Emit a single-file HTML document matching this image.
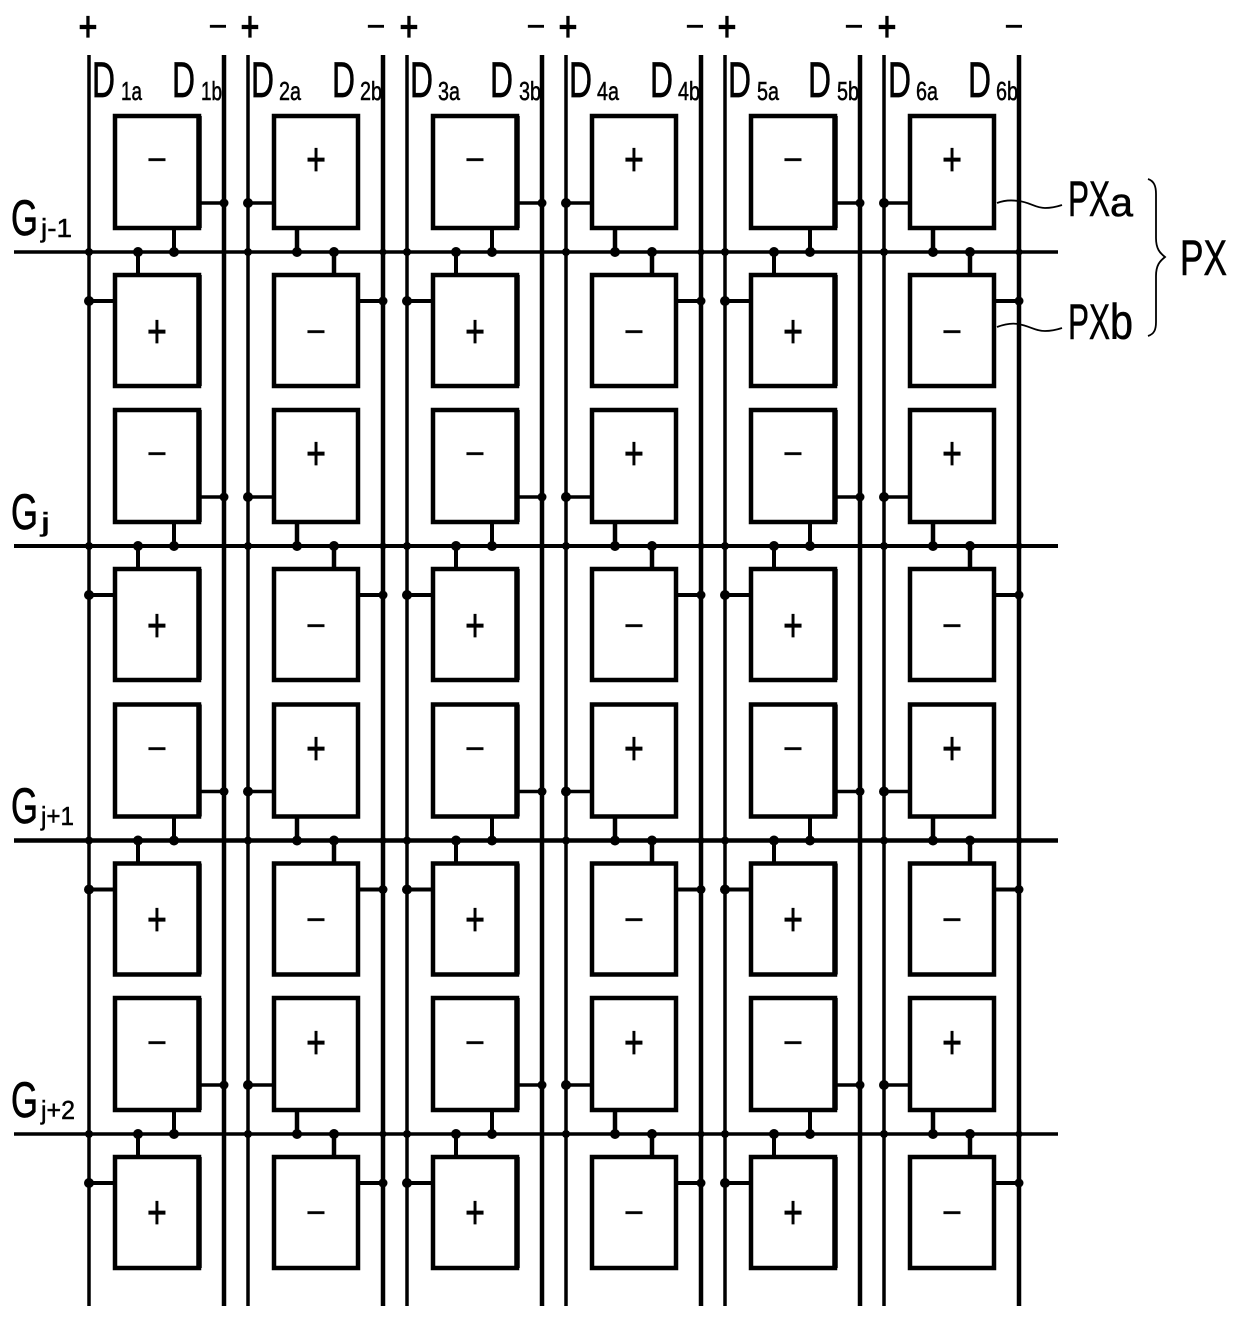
<!DOCTYPE html>
<html><head><meta charset="utf-8">
<style>
html,body{margin:0;padding:0;background:#fff;width:1240px;height:1325px;overflow:hidden}
svg{display:block}
text{font-family:"Liberation Sans",sans-serif;fill:#000}
.s{font-size:34px;text-anchor:middle;stroke:#000;stroke-width:.5px}
.p{transform-box:fill-box;transform-origin:center;transform:scaleY(1.35)}
.t{font-size:32px;text-anchor:middle;stroke:#000;stroke-width:.6px}
.tp{font-size:32px;text-anchor:middle;stroke:#000;stroke-width:1px;transform-box:fill-box;transform-origin:center;transform:scaleY(1.3)}
.d{font-size:50px;stroke:#000;stroke-width:.7px}
.b{font-size:26px;stroke:#000;stroke-width:.5px}
.l{stroke:#000;stroke-width:.6px}
</style></head><body>
<svg width="1240" height="1325" viewBox="0 0 1240 1325" xmlns="http://www.w3.org/2000/svg">
<defs>
<g id="odd" fill="none" stroke="#000" stroke-width="4">
<rect x="115" y="116" width="84" height="112" stroke-width="4.5"/>
<path d="M199 116V228" stroke-width="5.5"/>
<path d="M199 203H224" stroke-width="3.5"/>
<path d="M174 230V252" stroke-width="4"/>
<rect x="115" y="275" width="84" height="111" stroke-width="4.5"/>
<path d="M199 275V386" stroke-width="5.5"/>
<path d="M89 301H113" stroke-width="4"/>
<path d="M138 252V273" stroke-width="4"/>
<g fill="#000" stroke="none">
<circle cx="224" cy="203" r="4.5"/><circle cx="174" cy="252" r="5"/>
<circle cx="138" cy="252" r="5"/><circle cx="89" cy="301" r="5"/>
<circle cx="89" cy="252" r="4"/>
</g></g>
<g id="even" fill="none" stroke="#000" stroke-width="4">
<rect x="274" y="116" width="84" height="112" stroke-width="4.5"/>
<path d="M248 203H272" stroke-width="3.5"/>
<path d="M297 230V252" stroke-width="4.5"/>
<rect x="274" y="275" width="84" height="111" stroke-width="4.5"/>
<path d="M360 301H383" stroke-width="4"/>
<path d="M334 252V273" stroke-width="4.5"/>
<g fill="#000" stroke="none">
<circle cx="248" cy="203" r="5"/><circle cx="297" cy="252" r="5"/>
<circle cx="334" cy="252" r="5"/><circle cx="383" cy="301" r="4.5"/>
<circle cx="248" cy="252" r="4"/><circle cx="383" cy="252" r="3.5"/>
</g></g>
<g id="pair"><use href="#odd"/><use href="#even"/></g>
<g id="row"><use href="#pair"/><use href="#pair" x="318"/><use href="#pair" x="636"/></g>
</defs>

<!-- gate lines -->
<g stroke="#000" fill="none">
<path d="M14 252H1058" stroke-width="3.5"/>
<path d="M14 546H1058" stroke-width="4"/>
<path d="M14 840.5H1058" stroke-width="4.5"/>
<path d="M14 1134H1058" stroke-width="3.5"/>
<!-- data lines -->
<g stroke-width="3.5">
<path d="M89 55V1306"/><path d="M248 55V1306"/><path d="M407 55V1306"/><path d="M566 55V1306"/><path d="M725 55V1306"/><path d="M884 55V1306"/>
</g>
<g stroke-width="4.5">
<path d="M224 55V1306"/><path d="M383 55V1306"/><path d="M542 55V1306"/><path d="M701 55V1306"/><path d="M860 55V1306"/><path d="M1019 55V1306"/>
</g>
</g>

<use href="#row"/>
<use href="#row" y="294"/>
<use href="#row" y="588.5"/>
<use href="#row" y="882"/>

<!-- top polarity -->
<text class="tp" x="88" y="37">+</text><text class="t" x="218" y="37">−</text>
<text class="tp" x="250" y="37">+</text><text class="t" x="376" y="37">−</text>
<text class="tp" x="409" y="37">+</text><text class="t" x="536" y="37">−</text>
<text class="tp" x="568" y="37">+</text><text class="t" x="695" y="37">−</text>
<text class="tp" x="727" y="37">+</text><text class="t" x="854" y="37">−</text>
<text class="tp" x="887" y="37">+</text><text class="t" x="1014" y="37">−</text>

<!-- data labels -->
<text class="d" x="92" y="97" textLength="23" lengthAdjust="spacingAndGlyphs">D</text><text class="b" x="121" y="100" textLength="21" lengthAdjust="spacingAndGlyphs">1a</text>
<text class="d" x="172" y="97" textLength="23" lengthAdjust="spacingAndGlyphs">D</text><text class="b" x="201" y="100" textLength="21" lengthAdjust="spacingAndGlyphs">1b</text>
<text class="d" x="251" y="97" textLength="23" lengthAdjust="spacingAndGlyphs">D</text><text class="b" x="279" y="100" textLength="22" lengthAdjust="spacingAndGlyphs">2a</text>
<text class="d" x="332" y="97" textLength="23" lengthAdjust="spacingAndGlyphs">D</text><text class="b" x="360" y="100" textLength="22" lengthAdjust="spacingAndGlyphs">2b</text>
<text class="d" x="410" y="97" textLength="23" lengthAdjust="spacingAndGlyphs">D</text><text class="b" x="438" y="100" textLength="22" lengthAdjust="spacingAndGlyphs">3a</text>
<text class="d" x="490" y="97" textLength="23" lengthAdjust="spacingAndGlyphs">D</text><text class="b" x="519" y="100" textLength="22" lengthAdjust="spacingAndGlyphs">3b</text>
<text class="d" x="569" y="97" textLength="23" lengthAdjust="spacingAndGlyphs">D</text><text class="b" x="597" y="100" textLength="22" lengthAdjust="spacingAndGlyphs">4a</text>
<text class="d" x="650" y="97" textLength="23" lengthAdjust="spacingAndGlyphs">D</text><text class="b" x="678" y="100" textLength="22" lengthAdjust="spacingAndGlyphs">4b</text>
<text class="d" x="728" y="97" textLength="23" lengthAdjust="spacingAndGlyphs">D</text><text class="b" x="757" y="100" textLength="22" lengthAdjust="spacingAndGlyphs">5a</text>
<text class="d" x="808" y="97" textLength="23" lengthAdjust="spacingAndGlyphs">D</text><text class="b" x="837" y="100" textLength="22" lengthAdjust="spacingAndGlyphs">5b</text>
<text class="d" x="888" y="97" textLength="23" lengthAdjust="spacingAndGlyphs">D</text><text class="b" x="916" y="100" textLength="22" lengthAdjust="spacingAndGlyphs">6a</text>
<text class="d" x="968" y="97" textLength="23" lengthAdjust="spacingAndGlyphs">D</text><text class="b" x="996" y="100" textLength="22" lengthAdjust="spacingAndGlyphs">6b</text>

<!-- gate labels -->
<text class="d" x="11" y="235" textLength="27" lengthAdjust="spacingAndGlyphs">G</text><text class="b" x="41" y="237" textLength="31" lengthAdjust="spacingAndGlyphs">j-1</text>
<text class="d" x="11" y="529" textLength="27" lengthAdjust="spacingAndGlyphs">G</text><text class="b" x="41" y="531" textLength="9" lengthAdjust="spacingAndGlyphs">j</text>
<text class="d" x="11" y="823" textLength="27" lengthAdjust="spacingAndGlyphs">G</text><text class="b" x="41" y="825" textLength="33" lengthAdjust="spacingAndGlyphs">j+1</text>
<text class="d" x="11" y="1117" textLength="27" lengthAdjust="spacingAndGlyphs">G</text><text class="b" x="41" y="1119" textLength="34" lengthAdjust="spacingAndGlyphs">j+2</text>

<!-- cell signs -->
<g>
<text class="s" x="157" y="171">−</text><text class="s p" x="316" y="171">+</text><text class="s" x="475" y="171">−</text><text class="s p" x="634" y="171">+</text><text class="s" x="793" y="171">−</text><text class="s p" x="952" y="171">+</text>
<text class="s p" x="157" y="343">+</text><text class="s" x="316" y="343">−</text><text class="s p" x="475" y="343">+</text><text class="s" x="634" y="343">−</text><text class="s p" x="793" y="343">+</text><text class="s" x="952" y="343">−</text>
<text class="s" x="157" y="465">−</text><text class="s p" x="316" y="465">+</text><text class="s" x="475" y="465">−</text><text class="s p" x="634" y="465">+</text><text class="s" x="793" y="465">−</text><text class="s p" x="952" y="465">+</text>
<text class="s p" x="157" y="637">+</text><text class="s" x="316" y="637">−</text><text class="s p" x="475" y="637">+</text><text class="s" x="634" y="637">−</text><text class="s p" x="793" y="637">+</text><text class="s" x="952" y="637">−</text>
<text class="s" x="157" y="760">−</text><text class="s p" x="316" y="760">+</text><text class="s" x="475" y="760">−</text><text class="s p" x="634" y="760">+</text><text class="s" x="793" y="760">−</text><text class="s p" x="952" y="760">+</text>
<text class="s p" x="157" y="931">+</text><text class="s" x="316" y="931">−</text><text class="s p" x="475" y="931">+</text><text class="s" x="634" y="931">−</text><text class="s p" x="793" y="931">+</text><text class="s" x="952" y="931">−</text>
<text class="s" x="157" y="1054">−</text><text class="s p" x="316" y="1054">+</text><text class="s" x="475" y="1054">−</text><text class="s p" x="634" y="1054">+</text><text class="s" x="793" y="1054">−</text><text class="s p" x="952" y="1054">+</text>
<text class="s p" x="157" y="1224">+</text><text class="s" x="316" y="1224">−</text><text class="s p" x="475" y="1224">+</text><text class="s" x="634" y="1224">−</text><text class="s p" x="793" y="1224">+</text><text class="s" x="952" y="1224">−</text>
</g>

<!-- PX callouts -->
<g fill="none" stroke="#000" stroke-width="1.8">
<path d="M997 203C1005 200 1012 200 1018 201C1030 202 1035 208 1045 208C1052 208 1056 207 1062 205"/>
<path d="M997 327C1005 324 1012 323 1018 324C1030 326 1035 331 1045 331C1052 331 1056 330 1062 328"/>
<path d="M1148 179C1154 181 1156 186 1156 194V238C1156 249 1160 253 1165 257C1160 261 1156 265 1156 276V322C1156 330 1154 334 1148 336"/>
</g>
<text class="l" x="1068" y="216" font-size="50" textLength="42" lengthAdjust="spacingAndGlyphs">PX</text><text class="l" x="1110" y="216" font-size="40" textLength="23" lengthAdjust="spacingAndGlyphs">a</text>
<text class="l" x="1068" y="339" font-size="50" textLength="42" lengthAdjust="spacingAndGlyphs">PX</text><text class="l" x="1110" y="339" font-size="50" textLength="23" lengthAdjust="spacingAndGlyphs">b</text>
<text class="l" x="1180" y="275" font-size="50" textLength="47" lengthAdjust="spacingAndGlyphs">PX</text>
</svg>
</body></html>
